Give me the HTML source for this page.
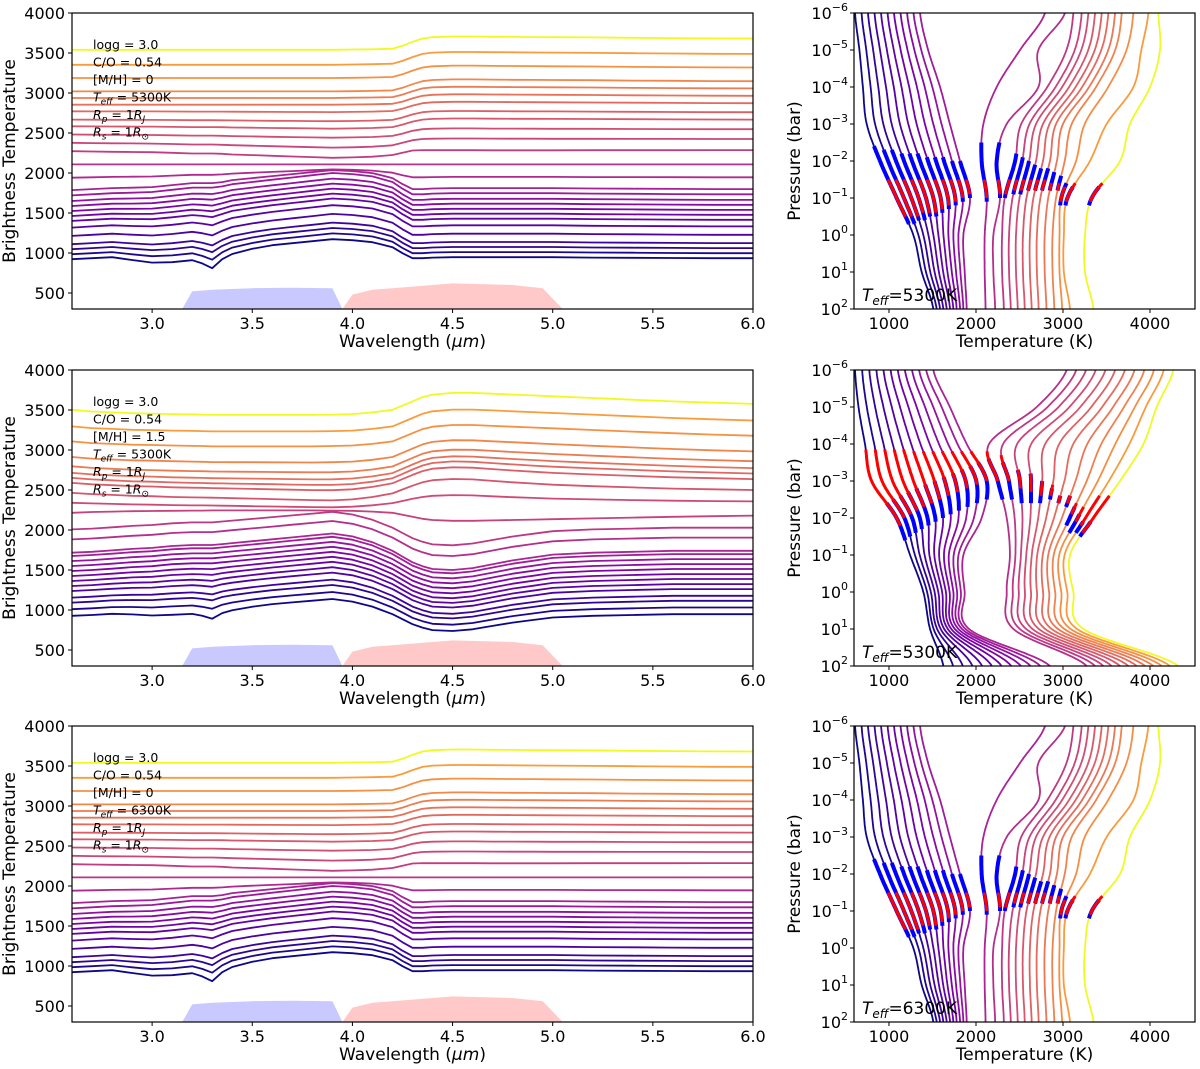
<!DOCTYPE html>
<html><head><meta charset="utf-8"><style>
body{margin:0;background:#fff}
svg{display:block;font-family:"DejaVu Sans","Liberation Sans",sans-serif}
</style></head><body>
<svg id="fig" width="1200" height="1069" viewBox="0 0 1200 1069" xmlns="http://www.w3.org/2000/svg"></svg>
<script>
// ---- spectra data ----
const WL=[2.6,2.7,2.8,2.9,3.0,3.1,3.2,3.25,3.3,3.35,3.4,3.5,3.6,3.7,3.8,3.9,4.0,4.1,4.2,4.25,4.3,4.35,4.4,4.5,4.6,4.7,4.8,4.9,5.0,5.2,5.4,5.6,5.8,6.0];
const HOT1=[0,0,0,0,0,0,0,0,0,0,0,0,0,0,0,0,0.02,0.04,0.08,0.3,0.6,0.85,0.95,1,1,0.98,0.97,0.96,0.95,0.93,0.9,0.88,0.86,0.85];
const COOL1=[0,0.05,0.1,0.12,0.15,0.25,0.35,0.35,0.35,0.4,0.5,0.6,0.7,0.8,0.9,1,0.95,0.85,0.6,0.3,0.05,0.05,0.08,0.1,0.1,0.1,0.1,0.1,0.1,0.08,0.07,0.06,0.05,0.05];
const DIP1=[0,0,0,0.2,0.4,0.5,0.5,0.7,1,0.5,0.3,0.1,0,0,0,0,0,0,0,0,0,0,0,0,0,0,0,0,0,0,0,0,0,0];
const HOT2=[0,-0.1,-0.15,-0.2,-0.22,-0.25,-0.27,-0.28,-0.3,-0.3,-0.3,-0.3,-0.3,-0.3,-0.3,-0.28,-0.25,-0.15,0,0.25,0.5,0.75,0.9,1,1,0.95,0.9,0.85,0.8,0.7,0.6,0.5,0.42,0.35];
const COOL2=[0,0.05,0.12,0.2,0.25,0.35,0.4,0.4,0.4,0.45,0.5,0.6,0.7,0.8,0.9,1,0.85,0.55,0.1,-0.2,-0.5,-0.7,-0.85,-0.9,-0.8,-0.6,-0.4,-0.25,-0.1,0,0.05,0.1,0.1,0.1];
const BASE1=[923,985,1048,1110,1214,1318,1401,1463,1525,1588,1650,1720,1786,1941,2107,2273,2377,2481,2584,2667,2771,2854,2938,3020,3187,3353,3540];
const HOTA1=[0,0,0,0,0,0,0,0,0,0,0,0,0,0,0,20,60,80,100,110,120,130,140,150,155,160,166];
const COOLA1=[250,260,265,270,275,280,280,280,280,280,280,280,250,104,0,-83,-60,-40,-30,-20,-10,0,0,0,0,0,0];
const DIPA1=[-200,-160,-130,-110,-90,-70,-50,-40,-30,-20,-10,0,0,0,0,0,0,0,0,0,0,0,0,0,0,0,0];
const BASE2=[927,1010,1093,1155,1238,1300,1363,1425,1488,1550,1612,1675,1716,1882,2007,2215,2340,2464,2589,2651,2714,2796,2913,3107,3295,3502];
const HOTA2=[0,0,0,0,0,0,0,0,0,0,0,0,0,0,0,-100,60,120,150,170,180,190,200,205,210,212];
const COOLA2=[210,215,220,225,230,235,240,240,240,240,240,240,240,230,220,0,-40,-60,-50,-40,-30,-20,-10,0,0,0];
const DIPA2=[-120,-80,-60,-50,-40,-30,-20,-10,0,0,0,0,0,0,0,0,0,0,0,0,0,0,0,0,0,0];
const BLUEBAND=[[3.15,0],[3.2,520],[3.3,540],[3.5,560],[3.7,565],[3.9,560],[3.95,300]];
const REDBAND=[[3.95,300],[4.0,480],[4.1,540],[4.3,580],[4.5,620],[4.8,600],[4.95,560],[5.05,300]];
const SPEC_PANELS=[{top:13,base:BASE1,hA:HOTA1,cA:COOLA1,dA:DIPA1,hot:HOT1,cool:COOL1,lab:['logg = 3.0','C/O = 0.54','[M/H] = 0','5300K']},
 {top:370,base:BASE2,hA:HOTA2,cA:COOLA2,dA:DIPA2,hot:HOT2,cool:COOL2,lab:['logg = 3.0','C/O = 0.54','[M/H] = 1.5','5300K']},
 {top:726,base:BASE1,hA:HOTA1,cA:COOLA1,dA:DIPA1,hot:HOT1,cool:COOL1,lab:['logg = 3.0','C/O = 0.54','[M/H] = 0','6300K']}];
// ---- T-P profile data ----
const LOGP=[-6,-5,-4,-3,-2,-1,0,1,2];
const PROF1=[
[610,660,700,744,897,1088,1280,1376,1510],[685,739,789,840,989,1172,1338,1425,1548],
[759,818,877,935,1081,1257,1395,1475,1587],[834,897,966,1031,1173,1341,1453,1524,1625],
[909,976,1055,1126,1265,1425,1510,1574,1663],[984,1055,1144,1222,1357,1510,1568,1623,1702],
[1058,1134,1232,1318,1448,1594,1626,1672,1740],[1133,1213,1321,1413,1540,1678,1683,1722,1778],
[1208,1292,1410,1509,1632,1762,1740,1771,1817],[1282,1371,1498,1604,1724,1847,1798,1821,1855],
[1357,1450,1587,1700,1816,1931,1855,1870,1893],
[2793,2506,2238,2085,2065,2123,2100,2100,2110],[3023,2717,2717,2353,2238,2276,2200,2200,2220],
[3119,3040,2820,2520,2450,2330,2300,2300,2320],[3215,3135,2915,2615,2530,2420,2380,2380,2400],
[3292,3210,2990,2690,2610,2500,2460,2460,2480],[3368,3290,3070,2770,2690,2580,2540,2540,2560],
[3445,3365,3145,2845,2770,2660,2620,2620,2640],[3521,3440,3220,2920,2850,2740,2700,2700,2720],
[3598,3520,3300,3000,2930,2830,2790,2790,2810],[3675,3600,3380,3100,3020,2920,2880,2880,2900],
[3809,3730,3520,3250,3150,2980,2960,2960,2990],[3981,3900,3809,3502,3310,3050,3010,3010,3080],
[4096,4115,4000,3770,3655,3330,3253,3253,3350]];
const PROF2=[
[610,650,724,800,1088,1242,1395,1472,1625],[692,745,830,920,1177,1298,1438,1513,1736],
[774,841,937,1041,1266,1353,1481,1553,1848],[855,936,1043,1161,1354,1409,1524,1594,1959],
[937,1032,1149,1281,1443,1465,1567,1635,2070],[1019,1127,1255,1401,1532,1521,1611,1676,2182],
[1101,1223,1362,1522,1621,1576,1654,1716,2293],[1183,1318,1468,1642,1710,1632,1697,1757,2405],
[1265,1414,1574,1762,1799,1688,1740,1798,2516],[1346,1509,1680,1882,1887,1744,1783,1839,2627],
[1428,1605,1787,2003,1976,1799,1827,1879,2739],[1510,1700,1893,2123,2065,1855,1870,1920,2850],
[3042,2698,2150,2250,2353,2390,2353,2430,3272],[3153,2823,2311,2378,2444,2453,2423,2503,3368],
[3265,2949,2473,2505,2534,2516,2492,2576,3464],[3376,3074,2634,2633,2625,2578,2562,2649,3559],
[3488,3199,2795,2761,2715,2641,2632,2722,3655],[3599,3325,2956,2889,2806,2704,2701,2795,3751],
[3711,3450,3118,3016,2896,2767,2771,2869,3847],[3822,3576,3279,3144,2987,2830,2840,2942,3943],
[3934,3701,3440,3272,3077,2893,2910,3015,4039],[4045,3826,3601,3400,3168,2956,2980,3088,4135],
[4157,3952,3763,3527,3258,3018,3049,3161,4230],[4268,4077,3924,3655,3349,3081,3119,3234,4326]];
const BLUE_LO1=[-2.4,-2.3,-2.3,-2.2,-2.2,-2.2,-2.1,-2.1,-2.1,-2.0,-2.0,-2.5,-2.5,-2.2,-2.1,-2.0,-1.9,-1.8,-1.8,-1.7,-1.6,-1.4,-1.3,-1.3];
const BLUE_HI1=[-0.3,-0.3,-0.4,-0.4,-0.5,-0.5,-0.6,-0.7,-0.8,-0.9,-1.0,-0.9,-1.0,-1.0,-1.1,-1.1,-1.2,-1.2,-1.2,-1.2,-1.2,-0.8,-0.8,-0.8];
const RED_LO1=[-1.5,-1.5,-1.5,-1.5,-1.5,-1.5,-1.5,-1.5,-1.5,-1.5,-1.5,-1.5,-1.5,-1.5,-1.5,-1.5,-1.5,-1.5,-1.5,-1.4,-1.4,-1.3,-1.4,-1.4];
const RED_HI1=[-0.5,-0.5,-0.5,-0.6,-0.6,-0.6,-0.7,-0.8,-0.9,-1.0,-1.1,-1.0,-1.1,-1.1,-1.2,-1.2,-1.2,-1.2,-1.2,-1.2,-1.2,-0.9,-0.9,-0.9];
const BLUE_LO2=[-2.4,-2.5,-2.6,-2.7,-2.8,-2.9,-3.0,-3.1,-3.2,-3.3,-3.4,-3.5,-3.6,-3.5,-3.3,-3.2,-3.0,-2.8,-2.6,-2.6,-2.3,-2.1,-1.9,-1.9];
const BLUE_HI2=[-1.4,-1.5,-1.6,-1.7,-1.8,-1.9,-2.0,-2.1,-2.2,-2.3,-2.4,-2.5,-2.5,-2.5,-2.4,-2.4,-2.4,-2.5,-2.4,-2.3,-1.8,-1.6,-1.6,-1.5];
const RED_LO2=[-3.85,-3.85,-3.85,-3.85,-3.85,-3.8,-3.8,-3.8,-3.8,-3.8,-3.8,-3.8,-3.8,-3.7,-3.3,-3.2,-3.0,-2.9,-2.6,-2.6,-2.4,-2.3,-2.6,-2.6];
const RED_HI2=[-1.8,-2.0,-2.1,-2.2,-2.3,-2.4,-2.5,-2.6,-2.7,-2.8,-2.9,-3.0,-3.0,-3.0,-2.8,-2.7,-2.6,-2.6,-2.4,-2.4,-2.1,-1.9,-1.8,-1.6];
const TP_PANELS=[{top:13,prof:PROF1,bl:BLUE_LO1,bh:BLUE_HI1,rl:RED_LO1,rh:RED_HI1,lab:'5300K'},
 {top:370,prof:PROF2,bl:BLUE_LO2,bh:BLUE_HI2,rl:RED_LO2,rh:RED_HI2,lab:'5300K'},
 {top:726,prof:PROF1,bl:BLUE_LO1,bh:BLUE_HI1,rl:RED_LO1,rh:RED_HI1,lab:'6300K'}];
const WL_TICKS=[3.0,3.5,4.0,4.5,5.0,5.5,6.0];
const BT_TICKS=[500,1000,1500,2000,2500,3000,3500,4000];
const T_TICKS=[1000,2000,3000,4000];
const P_TICKS=[-6,-5,-4,-3,-2,-1,0,1,2];

const NS='http://www.w3.org/2000/svg';
const svg=document.getElementById('fig');
function mk(tag,attrs,parent){const e=document.createElementNS(NS,tag);for(const k in attrs)e.setAttribute(k,attrs[k]);(parent||svg).appendChild(e);return e;}
const PL=[[0,[13,8,135]],[0.125,[76,2,161]],[0.25,[126,3,168]],[0.375,[168,34,150]],[0.5,[204,71,120]],[0.625,[229,107,93]],[0.75,[248,149,64]],[0.875,[253,197,39]],[1,[240,249,33]]];
function plasma(t){t=Math.max(0,Math.min(1,t));for(let i=1;i<PL.length;i++){if(t<=PL[i][0]){const a=PL[i-1],b=PL[i],f=(t-a[0])/(b[0]-a[0]);return 'rgb('+[0,1,2].map(k=>Math.round(a[1][k]+f*(b[1][k]-a[1][k]))).join(',')+')';}}return 'rgb(240,249,33)';}
function lineColor(c,n){return c===n-1?plasma(1):plasma(c/(n-1)*0.8);}
const PH=296;
const LX0=72,LX1=753,WMIN=2.6,WMAX=6.0,BMIN=300,BMAX=4000;
const xw=w=>LX0+(w-WMIN)/(WMAX-WMIN)*(LX1-LX0);
const yb=(b,top)=>top+PH-(b-BMIN)/(BMAX-BMIN)*PH;
const RX0=854,RX1=1195,TMIN=598,TMAX=4517;
const xt=t=>RX0+(t-TMIN)/(TMAX-TMIN)*(RX1-RX0);
const yp=(lp,top)=>top+(lp+6)/8*PH;
function catmull(vals,lp){
  let i=Math.min(LOGP.length-2,Math.max(0,Math.floor(lp+6)));const f=lp+6-i;
  const p0=vals[Math.max(0,i-1)],p1=vals[i],p2=vals[i+1],p3=vals[Math.min(vals.length-1,i+2)];
  return 0.5*((2*p1)+(-p0+p2)*f+(2*p0-5*p1+4*p2-p3)*f*f+(-p0+3*p1-3*p2+p3)*f*f*f);
}
function tpPath(vals,lo,hi,top){let d='';for(let lp=lo;lp<=hi+1e-9;lp+=0.05){d+=(d?'L':'M')+xt(catmull(vals,lp)).toFixed(1)+','+yp(lp,top).toFixed(1);}return d;}

SPEC_PANELS.forEach((P,pi)=>{
  const top=P.top;
  const cp=mk('clipPath',{id:'cl'+pi});mk('rect',{x:LX0,y:top,width:LX1-LX0,height:PH},cp);
  const g=mk('g',{'clip-path':'url(#cl'+pi+')'});
  
  
  const band=(arr,col,name)=>{let d='M'+xw(arr[0][0])+','+yb(BMIN,top);arr.forEach(p=>{d+='L'+xw(p[0]).toFixed(1)+','+yb(Math.max(p[1],BMIN),top).toFixed(1);});d+='Z';
    const e=mk('path',{d:d,fill:col},g);};
  band(BLUEBAND,'rgba(120,120,255,0.4)','blue-band');
  band(REDBAND,'rgba(255,120,120,0.4)','red-band');
  const n=P.base.length;
  for(let c=0;c<n;c++){
    let d='';WL.forEach((w,k)=>{const v=P.base[c]+P.hA[c]*P.hot[k]+P.cA[c]*P.cool[k]+P.dA[c]*DIP1[k];d+=(k?'L':'M')+xw(w).toFixed(1)+','+yb(v,top).toFixed(1);});
    const e=mk('path',{d:d,fill:'none',stroke:lineColor(c,n),'stroke-width':1.8,'stroke-linejoin':'round'},g);
    
    
  }
  const fr=mk('rect',{x:LX0,y:top,width:LX1-LX0,height:PH,fill:'none',stroke:'#000','stroke-width':1.2});
  
  WL_TICKS.forEach(w=>{mk('line',{x1:xw(w),x2:xw(w),y1:top+PH,y2:top+PH+4,stroke:'#000'});
    const t=mk('text',{x:xw(w),y:top+PH+20,'font-size':16,'text-anchor':'middle'});t.textContent=w.toFixed(1);
    });
  BT_TICKS.forEach(b=>{mk('line',{x1:LX0-4,x2:LX0,y1:yb(b,top),y2:yb(b,top),stroke:'#000'});
    const t=mk('text',{x:LX0-7,y:yb(b,top)+6,'font-size':16,'text-anchor':'end'});t.textContent=b;
    });
  const xl=mk('text',{x:(LX0+LX1)/2,y:top+PH+38,'font-size':17,'text-anchor':'middle'});
  xl.innerHTML='Wavelength (<tspan font-style="italic">μm</tspan>)';
  
  const yl=mk('text',{x:0,y:0,'font-size':17,'text-anchor':'middle',transform:'translate(15,'+(top+PH/2)+') rotate(-90)'});
  yl.textContent='Brightness Temperature';
  
  const ann=mk('g',{'font-size':12.5});
  
  const lines=[P.lab[0],P.lab[1],P.lab[2],'<tspan font-style="italic">T</tspan><tspan font-size="9" dy="3" font-style="italic">eff</tspan><tspan dy="-3"> = '+P.lab[3]+'</tspan>',
   '<tspan font-style="italic">R</tspan><tspan font-size="9" dy="3" font-style="italic">p</tspan><tspan dy="-3"> = 1</tspan><tspan font-style="italic">R</tspan><tspan font-size="9" dy="3" font-style="italic">J</tspan>',
   '<tspan font-style="italic">R</tspan><tspan font-size="9" dy="3" font-style="italic">s</tspan><tspan dy="-3"> = 1</tspan><tspan font-style="italic">R</tspan><tspan font-size="9" dy="3">⊙</tspan>'];
  lines.forEach((s,k)=>{const t=mk('text',{x:93,y:top+36+k*17.5},ann);t.innerHTML=s;});
});

TP_PANELS.forEach((P,pi)=>{
  const top=P.top;
  const cp=mk('clipPath',{id:'cr'+pi});mk('rect',{x:RX0,y:top,width:RX1-RX0,height:PH},cp);
  const g=mk('g',{'clip-path':'url(#cr'+pi+')'});
  
  
  const n=P.prof.length;
  for(let c=0;c<n;c++){
    const e=mk('path',{d:tpPath(P.prof[c],-6,2,top),fill:'none',stroke:lineColor(c,n),'stroke-width':1.8},g);
    
  }
  for(let c=0;c<n;c++){
    const b=mk('path',{d:tpPath(P.prof[c],P.bl[c],P.bh[c],top),fill:'none',stroke:'#0000ff','stroke-width':4},g);
    
    const r=mk('path',{d:tpPath(P.prof[c],P.rl[c],P.rh[c],top),fill:'none',stroke:'#ff0000','stroke-width':3},g);
    
  }
  const fr=mk('rect',{x:RX0,y:top,width:RX1-RX0,height:PH,fill:'none',stroke:'#000','stroke-width':1.2});
  
  T_TICKS.forEach(t=>{mk('line',{x1:xt(t),x2:xt(t),y1:top+PH,y2:top+PH+4,stroke:'#000'});
    const e=mk('text',{x:xt(t),y:top+PH+20,'font-size':16,'text-anchor':'middle'});e.textContent=t;
    });
  P_TICKS.forEach(p=>{mk('line',{x1:RX0-4,x2:RX0,y1:yp(p,top),y2:yp(p,top),stroke:'#000'});
    const e=mk('text',{x:RX0-6,y:yp(p,top)+6,'font-size':16,'text-anchor':'end'});
    e.innerHTML='10<tspan font-size="11" dy="-8">'+(p<0?'−'+(-p):p)+'</tspan>';
    });
  const xl=mk('text',{x:(RX0+RX1)/2,y:top+PH+38,'font-size':17,'text-anchor':'middle'});xl.textContent='Temperature (K)';
  
  const yl=mk('text',{x:0,y:0,'font-size':17,'text-anchor':'middle',transform:'translate(800,'+(top+PH/2)+') rotate(-90)'});yl.textContent='Pressure (bar)';
  
  const te=mk('text',{x:862,y:top+PH-8,'font-size':17});
  te.innerHTML='<tspan font-style="italic">T</tspan><tspan font-size="12" dy="4" font-style="italic">eff</tspan><tspan dy="-4">='+P.lab+'</tspan>';
  
});
</script>
</body></html>
